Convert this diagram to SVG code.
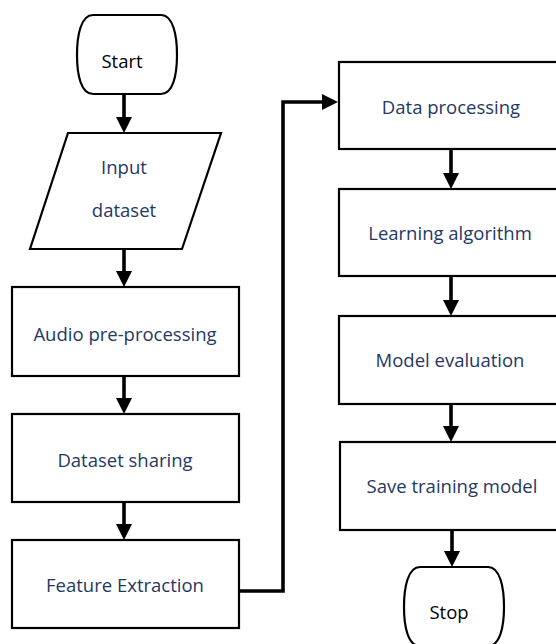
<svg xmlns="http://www.w3.org/2000/svg" width="556" height="644" viewBox="0 0 556 644">
<defs>
<marker id="ah" viewBox="0 0 16 16" refX="6" refY="8" markerWidth="16" markerHeight="16" markerUnits="userSpaceOnUse" orient="auto">
<path d="M0,0 L16,8 L0,16 Z" fill="#000"/>
</marker>
</defs>
<style>
.box{fill:#fff;stroke:#000;stroke-width:2.2}
.lbl{font-family:"Open Sans","Noto Sans",sans-serif;font-size:18.5px;fill:#1f3864;text-anchor:middle}
.term{font-family:"Open Sans","Noto Sans",sans-serif;font-size:18.5px;fill:#000;text-anchor:middle}
.conn{fill:none;stroke:#000;stroke-width:3.6;marker-end:url(#ah)}
</style>
<rect width="556" height="644" fill="#fff"/>
<g id="connectors">
<line class="conn" x1="124" y1="94" x2="124" y2="123"/>
<line class="conn" x1="124" y1="249" x2="124" y2="277"/>
<line class="conn" x1="124" y1="376" x2="124" y2="404"/>
<line class="conn" x1="124" y1="502" x2="124" y2="530"/>
<polyline class="conn" points="239,591 283,591 283,102 328,102"/>
<line class="conn" x1="451" y1="149" x2="451" y2="179"/>
<line class="conn" x1="451" y1="276" x2="451" y2="306"/>
<line class="conn" x1="451" y1="404" x2="451" y2="432"/>
<line class="conn" x1="452" y1="530" x2="452" y2="557"/>
</g>
<g id="start">
<path class="box" d="M93,15 L161,15 C173,15 177,35 177,55 C177,75 173,94 161,94 L93,94 C81,94 77,75 77,55 C77,35 81,15 93,15 Z"/>
<text class="term" x="122" y="68">Start</text>
</g>
<g id="input">
<polygon class="box" points="68,133 221,133 182,249 30,249"/>
<text class="lbl" x="124" y="174">Input</text>
<text class="lbl" x="124" y="217">dataset</text>
</g>
<g id="audio">
<rect class="box" x="12" y="287" width="227" height="89"/>
<text class="lbl" x="125" y="341">Audio pre-processing</text>
</g>
<g id="dataset">
<rect class="box" x="12" y="414" width="227" height="88"/>
<text class="lbl" x="125" y="467">Dataset sharing</text>
</g>
<g id="feature">
<rect class="box" x="12" y="540" width="227" height="88"/>
<text class="lbl" x="125" y="592">Feature Extraction</text>
</g>
<g id="dataproc">
<rect class="box" x="339" y="62" width="226" height="87"/>
<text class="lbl" x="451" y="114">Data processing</text>
</g>
<g id="learning">
<rect class="box" x="339" y="189" width="226" height="87"/>
<text class="lbl" x="450" y="240">Learning algorithm</text>
</g>
<g id="model">
<rect class="box" x="339" y="316" width="226" height="88"/>
<text class="lbl" x="450" y="367">Model evaluation</text>
</g>
<g id="save">
<rect class="box" x="340" y="442" width="226" height="88"/>
<text class="lbl" x="452" y="493">Save training model</text>
</g>
<g id="stop">
<path class="box" d="M420,567 L488,567 C500,567 504,587 504,607 C504,627 500,646 488,646 L420,646 C408,646 404,627 404,607 C404,587 408,567 420,567 Z"/>
<text class="term" x="449" y="619">Stop</text>
</g>
</svg>
